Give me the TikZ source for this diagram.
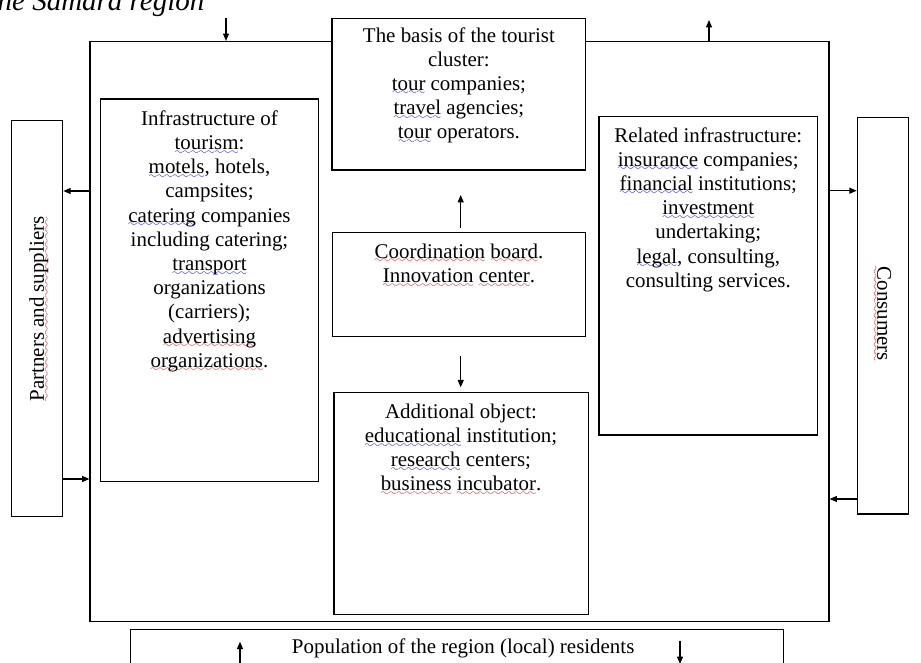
\documentclass[tikz,border=0pt]{standalone}
\usepackage{fontspec}
\setmainfont{Liberation Serif}
\usetikzlibrary{arrows.meta,fit}
\font\wvfont=lasy7 \relax
\newcommand\wv[2]{\setbox0=\hbox{#2}\leavevmode\rlap{\lower3.4pt\hbox to \wd0{\color{#1}\xleaders\hbox{\wvfont\char58}\hfil}}\box0\relax}
\newcommand\rw[1]{\wv{red}{#1}}
\newcommand\bw[1]{\wv{blue}{#1}}
\tikzset{
  box/.style={draw=black, line width=0.9pt, inner sep=0pt, fill=white},
  txt/.style={inner sep=0pt, align=center, anchor=north, font=\fontsize{15.7}{18.15}\selectfont},
  arr/.style={line width=0.8pt, -{Triangle[length=5.5pt,width=4.5pt]}}
}
\begin{document}
\begin{tikzpicture}[x=0.75pt,y=-0.75pt]
\useasboundingbox (0,0) rectangle (921,662);
% title (cut off)
\node[inner sep=0pt, anchor=base west, font=\fontsize{21.75}{26}\selectfont\itshape] (title) at (-10.7,10) {the Samara region};
% boxes
\node[box, fit={(90,41.5) (829,621.7)}] (outer) {};
\node[box, fit={(332,18.7) (585.7,170)}] (basis) {};
\node[box, fit={(100.7,99) (318.3,481.7)}] (infra) {};
\node[box, fit={(11.7,120.7) (62.7,516.7)}] (partners) {};
\node[box, fit={(332.3,232.7) (585.7,336.7)}] (coord) {};
\node[box, fit={(334,392.7) (588.3,614.3)}] (addl) {};
\node[box, fit={(599,116.7) (817.7,435)}] (related) {};
\node[box, fit={(857.3,117.7) (908.3,514)}] (consumers) {};
\node[box, fit={(130.7,629.3) (783.3,680)}] (pop) {};
% texts
\node[txt] (basistxt) at (458.9,24.8) {\strut The basis of the tourist\\ cluster:\\ \bw{tour} companies;\\ \bw{travel} agencies;\\ \bw{tour} operators.};
\node[txt] (infratxt) at (209.5,108.1) {\strut Infrastructure of\\ \bw{tourism}:\\ \bw{motels}, hotels,\\ campsites;\\ \bw{catering} companies\\ including catering;\\ \bw{transport}\\ organizations\\ (carriers);\\ \rw{advertising}\\ \rw{organizations}.};
\node[txt] (coordtxt) at (459,241.1) {\strut\rw{Coordination} \rw{board}.\\ \rw{Innovation} \rw{center}.};
\node[txt] (addltxt) at (461,401.1) {\strut Additional object:\\ \bw{educational} institution;\\ \bw{research} centers;\\ \rw{business} \rw{incubator}.};
\node[txt] (relatedtxt) at (708.3,124.8) {\strut Related infrastructure:\\ \bw{insurance} companies;\\ \bw{financial} institutions;\\ \bw{investment}\\ undertaking;\\ \bw{legal}, consulting,\\ consulting services.};
\node[txt, anchor=center, rotate=90] (partnerstxt) at (39,309) {\rw{Partners and suppliers}};
\node[txt, anchor=center, rotate=-90] (consumerstxt) at (882,314) {\rw{Consumers}};
\node[txt, anchor=base west] (poptxt) at (291.7,653) {Population of the region (local) residents};
% connectors
\coordinate (tl) at (226,18.3);
\draw[arr] (tl) -- (tl |- outer.north);
\coordinate (tr) at (709,20);
\draw[arr] (tr |- outer.north) -- (tr);
\coordinate (lo) at (0,191);
\draw[arr] (outer.west |- lo) -- (partners.east |- lo);
\coordinate (li) at (0,479);
\draw[arr] (partners.east |- li) -- (outer.west |- li);
\coordinate (ro) at (0,190.7);
\draw[arr] (outer.east |- ro) -- (consumers.west |- ro);
\coordinate (ri) at (0,499);
\draw[arr] (consumers.west |- ri) -- (outer.east |- ri);
\coordinate (cu1) at (460.7,227.7);
\coordinate (cu2) at (460.7,195);
\draw[arr] (cu1) -- (cu2);
\coordinate (cd1) at (460.7,356);
\coordinate (cd2) at (460.7,387.3);
\draw[arr] (cd1) -- (cd2);
\coordinate (pu1) at (240,670);
\coordinate (pu2) at (240,641.7);
\draw[arr] (pu1) -- (pu2);
\coordinate (pd1) at (680,640.7);
\coordinate (pd2) at (680,664);
\draw[arr] (pd1) -- (pd2);
\end{tikzpicture}
\end{document}
